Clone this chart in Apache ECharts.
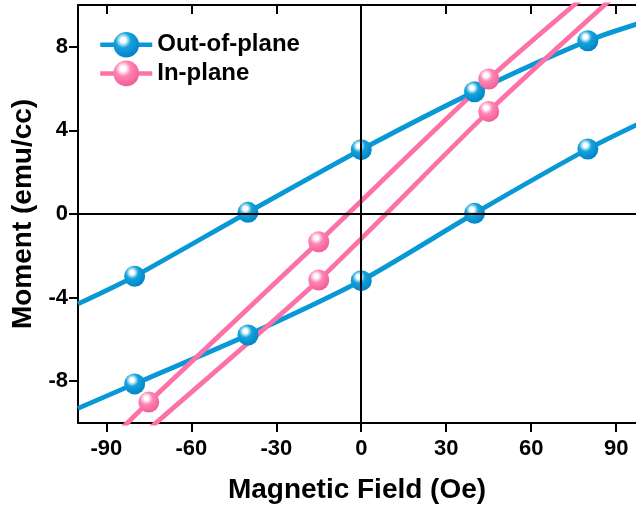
<!DOCTYPE html>
<html>
<head>
<meta charset="utf-8">
<script src="https://cdn.jsdelivr.net/npm/echarts@6/dist/echarts.min.js"></script>
<style>
	html, body { margin: 0; padding: 0; background: #fff; }
	#chart { width: 636px; height: 510px; }
</style>
</head>
<body>
<div id="chart"></div>
<script>
// measured points (field in Oe, moment in emu/cc)
var fieldOut = [-80, -40, 0, 40, 80];
var outUpper = [-2.98, 0.08, 3.08, 5.85, 8.29];
var outLower = [-8.13, -5.79, -3.19, 0.03, 3.11];
// where the fitted curves leave the frame
var outUpperEnds = [[-100, -4.3], [100, 9.2]];
var outLowerEnds = [[-100, -9.3], [100, 4.45]];

var fieldIn = [-75, -15, 45];
var inUpper = [-9.0, -1.33, 6.46];
var inLower = [-10.3, -3.16, 4.91];
var inUpperEnds = [[-90, -11.0], [90, 11.7]];
var inLowerEnds = [[-90, -12.1], [90, 10.5]];

var xTicks = [-90, -60, -30, 0, 30, 60, 90];
var yTicks = [-8, -4, 0, 4, 8];

(function() {
	var myChart = echarts.init(document.getElementById('chart'));
	var font = 'Liberation Sans, Arial, sans-serif';

	function ball(base, dark) {
		return new echarts.graphic.RadialGradient(0.38, 0.32, 0.72, [
			{ offset: 0, color: '#ffffff' },
			{ offset: 0.14, color: '#ffffff' },
			{ offset: 0.42, color: base },
			{ offset: 1, color: dark }
		]);
	}

	function branch(xs, ys, ends) {
		var d = [{ value: ends[0], symbol: 'none' }];
		for (var i = 0; i < xs.length; i++) d.push([xs[i], ys[i]]);
		d.push({ value: ends[1], symbol: 'none' });
		return d;
	}

	function lineSeries(name, data, lineColor, fill) {
		return {
			name: name,
			type: 'line',
			smooth: 0.25,
			data: data,
			symbol: 'circle',
			symbolSize: 21,
			lineStyle: { color: lineColor, width: 4.8 },
			itemStyle: { color: fill, borderWidth: 0 },
			z: 3
		};
	}

	var blue = '#0898d6', pink = '#fc72a8';
	var blueBall = ball('#14a2dc', '#0082c4');
	var pinkBall = ball('#ff84b3', '#ee5c97');

	option = {
		animation: false,
		grid: { left: 78, right: 0, top: 5, bottom: 87 },
		legend: {
			data: ['Out-of-plane', 'In-plane'],
			orient: 'vertical',
			left: 93,
			top: 27,
			itemWidth: 52,
			itemHeight: 32,
			itemGap: 3,
			lineStyle: { width: 4.5 },
			textStyle: { fontFamily: font, fontWeight: 'bold', fontSize: 24, color: '#000' }
		},
		xAxis: [{
			type: 'value',
			min: -100,
			max: 97,
			position: 'bottom',
			name: 'Magnetic Field (Oe)',
			nameLocation: 'middle',
			nameGap: 53,
			nameTextStyle: { fontFamily: font, fontWeight: 'bold', fontSize: 28, color: '#000' },
			axisLine: { onZero: false, lineStyle: { color: '#000', width: 2 } },
			axisTick: { show: true, inside: false, length: 9, lineStyle: { width: 2 }, customValues: xTicks },
			axisLabel: { fontFamily: font, fontWeight: 'bold', fontSize: 22, color: '#000', margin: 15, customValues: xTicks },
			splitLine: { show: false }
		}, {
			type: 'value',
			min: -100,
			max: 97,
			position: 'top',
			axisLine: { onZero: false, lineStyle: { color: '#000', width: 2 } },
			axisTick: { show: true, inside: true, length: 9, lineStyle: { width: 2 }, customValues: xTicks },
			axisLabel: { show: false },
			splitLine: { show: false }
		}],
		yAxis: [{
			type: 'value',
			min: -10,
			max: 10,
			position: 'left',
			name: 'Moment (emu/cc)',
			nameLocation: 'middle',
			nameGap: 40,
			nameTextStyle: { fontFamily: font, fontWeight: 'bold', fontSize: 28, color: '#000' },
			axisLine: { onZero: false, lineStyle: { color: '#000', width: 2 } },
			axisTick: { show: true, inside: false, length: 9, lineStyle: { width: 2 }, customValues: yTicks },
			axisLabel: { fontFamily: font, fontWeight: 'bold', fontSize: 22, color: '#000', margin: 10, customValues: yTicks },
			splitLine: { show: false }
		}],
		series: [
			lineSeries('Out-of-plane', branch(fieldOut, outUpper, outUpperEnds), blue, blueBall),
			lineSeries('Out-of-plane', branch(fieldOut, outLower, outLowerEnds), blue, blueBall),
			lineSeries('In-plane', branch(fieldIn, inUpper, inUpperEnds), pink, pinkBall),
			lineSeries('In-plane', branch(fieldIn, inLower, inLowerEnds), pink, pinkBall),
			{
				name: 'zero',
				type: 'line',
				data: [],
				z: 10,
				markLine: {
					silent: true,
					symbol: ['none', 'none'],
					label: { show: false },
					lineStyle: { color: '#000', width: 2, type: 'solid' },
					data: [{ xAxis: 0 }, { yAxis: 0 }]
				}
			}
		]
	};

	myChart.setOption(option);
})();
</script>
</body>
</html>
